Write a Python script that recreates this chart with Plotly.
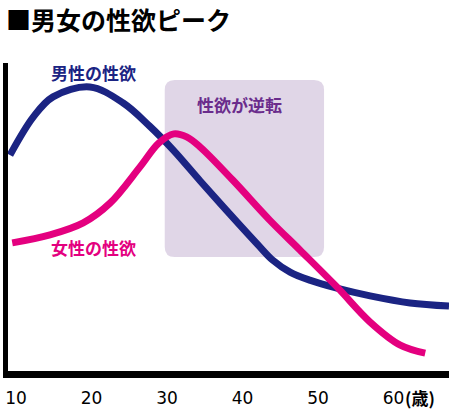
import plotly.graph_objects as go

# 男性の性欲（年齢, 強さ）
male_age = [9.2, 12.3, 14.9, 19.8, 24.2, 27.7, 30.8, 34.4, 38.3, 42.3, 44.0, 46.3, 48.9, 52.5, 56.9, 62.2, 67.35]
male_val = [70.1, 82.5, 89.0, 92.2, 87.0, 79.5, 71.8, 61.7, 51.0, 40.3, 36.0, 32.1, 29.5, 26.9, 24.4, 22.1, 21.1]

# 女性の性欲
female_age = [9.5, 14.5, 18.9, 22.45, 26.4, 28.9, 30.9, 32.6, 34.4, 38.7, 43.6, 47.6, 52.5, 56.9, 60.9, 64.2]
female_val = [41.6, 44.2, 48.1, 54.5, 66.2, 74.0, 77.0, 76.0, 72.7, 62.0, 49.0, 39.3, 27.3, 15.9, 8.4, 5.8]

tick_ages = [10, 20, 30, 40, 50, 60]
tick_text = ["10", "20", "30", "40", "50", "60"]

# 逆転ゾーン
zone_x = [29.7, 50.8]
zone_y = [37.0, 94.5]

NAVY = "#1b2483"
PINK = "#e4007f"

fig = go.Figure()

# 角丸の四角（px 10 相当の半径）
rx, ry = 1.32, 3.25
x0, x1 = zone_x
y0, y1 = zone_y
path = (f"M {x0+rx},{y0} L {x1-rx},{y0} Q {x1},{y0} {x1},{y0+ry} "
        f"L {x1},{y1-ry} Q {x1},{y1} {x1-rx},{y1} "
        f"L {x0+rx},{y1} Q {x0},{y1} {x0},{y1-ry} "
        f"L {x0},{y0+ry} Q {x0},{y0} {x0+rx},{y0} Z")
fig.add_shape(type="path", path=path, xref="x", yref="y",
              fillcolor="#e0d6e7", line=dict(width=0), layer="below")

fig.add_trace(go.Scatter(x=male_age, y=male_val, mode="lines",
                         line=dict(color=NAVY, width=7, shape="spline", smoothing=1.0)))
fig.add_trace(go.Scatter(x=female_age, y=female_val, mode="lines",
                         line=dict(color=PINK, width=7, shape="spline", smoothing=1.0)))

jp = "Noto Sans CJK JP"
fig.add_annotation(x=0, y=1.0, xref="paper", yref="paper", xshift=-4, yshift=64,
                   text="<b>■男女の性欲ピーク</b>", showarrow=False,
                   xanchor="left", yanchor="top",
                   font=dict(family=jp, size=25, color="black"))
fig.add_annotation(x=20.2, y=97.0, text="<b>男性の性欲</b>", showarrow=False,
                   font=dict(family=jp, size=17, color=NAVY))
fig.add_annotation(x=20.2, y=40.2, text="<b>女性の性欲</b>", showarrow=False,
                   font=dict(family=jp, size=17, color=PINK))
fig.add_annotation(x=39.6, y=86.5, text="<b>性欲が逆転</b>", showarrow=False,
                   font=dict(family=jp, size=17, color="#6a2c8c"))
fig.add_annotation(x=60, y=0, yref="y", text="<b>(歳)</b>", showarrow=False,
                   xanchor="left", yanchor="top", xshift=9, yshift=-12,
                   font=dict(family=jp, size=17, color="black"))

fig.update_layout(
    width=449, height=413,
    margin=dict(l=8, r=0, t=63, b=42),
    paper_bgcolor="white", plot_bgcolor="white",
    showlegend=False,
    xaxis=dict(range=[8.94, 67.35], showgrid=False, zeroline=False,
               showline=True, linecolor="black", linewidth=7,
               tickvals=tick_ages, ticktext=tick_text, ticks="",
               tickfont=dict(family="DejaVu Sans", size=17, color="black"),
               ticklabelstandoff=6),
    yaxis=dict(range=[0, 100], showgrid=False, zeroline=False,
               showline=True, linecolor="black", linewidth=5,
               showticklabels=False, ticks=""),
)
fig.update_xaxes(tickprefix="<b>", ticksuffix="</b>")

# ページの余白をなくす
fig.write_html("out.html", config={"displayModeBar": False},
               post_script="document.body.style.margin='0';")
